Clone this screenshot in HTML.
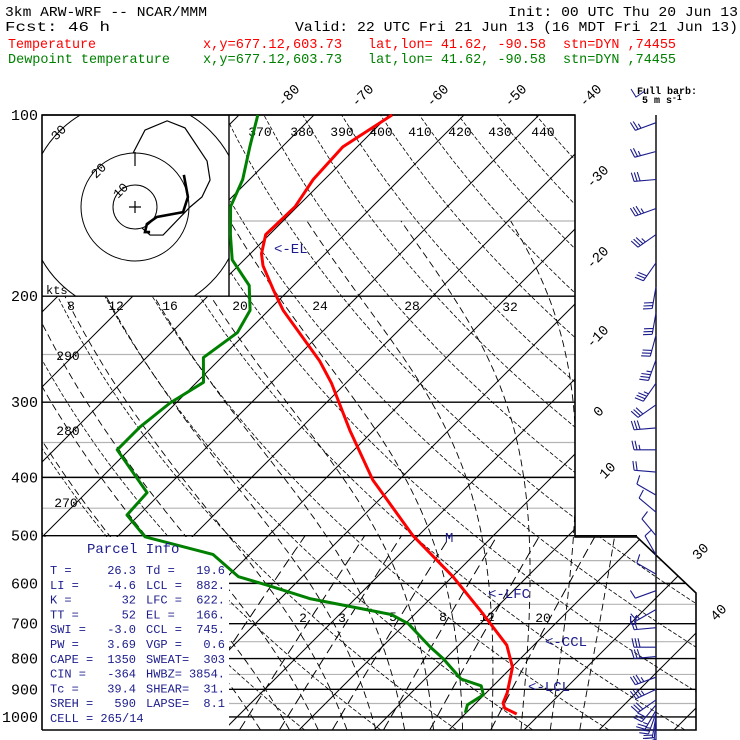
<!DOCTYPE html>
<html><head><meta charset="utf-8"><style>
html,body{margin:0;padding:0;background:#fff;}
svg{display:block;}
text{font-family:"Liberation Mono",monospace;}
</style></head><body>
<svg id="chart" xmlns="http://www.w3.org/2000/svg" width="740" height="740" viewBox="0 0 740 740">
<rect width="740" height="740" fill="#fff"/>
<defs><clipPath id="gclip"><polygon points="229,115 575,115 575,537 637,537 696,593 696,730 229,730 229,537 42,537 42,296 229,296"/></clipPath>
<clipPath id="hclip"><rect x="42" y="115" width="187" height="181"/></clipPath></defs>
<g font-size="14">
<text x="5" y="16" textLength="202" lengthAdjust="spacingAndGlyphs">3km ARW-WRF -- NCAR/MMM</text>
<text x="508" y="16" textLength="230" lengthAdjust="spacingAndGlyphs">Init: 00 UTC Thu 20 Jun 13</text>
<text x="5" y="31" textLength="105" lengthAdjust="spacingAndGlyphs">Fcst:    46 h</text>
<text x="295" y="31" textLength="443" lengthAdjust="spacingAndGlyphs">Valid: 22 UTC Fri 21 Jun 13 (16 MDT Fri 21 Jun 13)</text>
<g fill="#ff0000">
<text x="8" y="48" textLength="88" lengthAdjust="spacingAndGlyphs">Temperature</text>
<text x="203" y="48" textLength="139" lengthAdjust="spacingAndGlyphs">x,y=677.12,603.73</text>
<text x="368" y="48" textLength="178" lengthAdjust="spacingAndGlyphs">lat,lon= 41.62, -90.58</text>
<text x="563" y="48" textLength="113" lengthAdjust="spacingAndGlyphs">stn=DYN ,74455</text></g>
<g fill="#008000">
<text x="8" y="63" textLength="162" lengthAdjust="spacingAndGlyphs">Dewpoint temperature</text>
<text x="203" y="63" textLength="139" lengthAdjust="spacingAndGlyphs">x,y=677.12,603.73</text>
<text x="368" y="63" textLength="178" lengthAdjust="spacingAndGlyphs">lat,lon= 41.62, -90.58</text>
<text x="563" y="63" textLength="113" lengthAdjust="spacingAndGlyphs">stn=DYN ,74455</text></g>
</g>
<g id="grid" clip-path="url(#gclip)"></g>
<g id="frame"></g>
<g id="hodo"></g>
<g id="labels"></g>
<g id="sounding"></g>
<g id="barbs"></g>
<g fill="#1c1c8c" font-size="12" id="parcel"></g>
<g>
<text x="637" y="94" font-family="Liberation Serif, serif" font-weight="bold" font-size="10">Full barb:</text>
<text x="642" y="103" font-family="Liberation Serif, serif" font-weight="bold" font-size="10">5 m s<tspan dy="-3" font-size="8">-1</tspan></text>
<polyline points="645,91 636,97 631,89" fill="none" stroke="#1c1c8c" stroke-width="1"/>
</g>
</svg>
<script>
// ---- data ----
const isoTemps = [-150,-140,-130,-120,-110,-100,-90,-80,-70,-60,-50,-40,-30,-20,-10,0,10,20,30,40,50];
const dryThetas = [250,260,270,280,290,300,310,320,330,340,350,360,370,380,390,400,410,420,430,440,450,460,470];
const moistThetaW = [-8,-4,0,4,8,12,16,20,24,28,32,36];
const mixRatios = [1,2,3,5,8,12,20];
const pressureTicks = [100,200,300,400,500,600,700,800,900,1000];
const pressureMinor = [150,250,350,450,550,650,750,850,950];
const tempP = [100,113,128,142,158,170,178,196,211,256,279,334,404,500,585,664,760,827,912,948,967,989];
const tempC = [-69.6,-71.9,-71.5,-70.3,-70.5,-68.5,-66.7,-61.9,-58.1,-46.5,-41.9,-33.2,-23.5,-10.7,0.1,8.1,16.4,20.1,22.8,23.6,24.5,26.9];
const dewP = [100,113,128,142,158,174,192,211,230,253,278,301,330,360,424,462,502,537,585,604,636,676,700,765,800,865,888,919,955,985];
const dewC = [-87.5,-84.3,-80.9,-78.9,-75.2,-71.6,-65.9,-62.5,-61.2,-62.4,-59.1,-60.8,-61.6,-61.6,-51.9,-51.6,-46.3,-34.9,-28.5,-23.6,-16.1,-3.1,0.4,6.4,9.7,14.8,18.4,19.9,19.1,19.9];
const barbP = [103,115,128,143,158,176,193,213,232,255,279,303,331,360,392,428,457,500,538,579,617,663,711,766,794,859,900,937,955,975,986,998,1006,1014,1022,1030];
const barbDir = [250,255,265,250,235,215,190,190,195,200,215,235,265,270,275,300,310,320,330,300,250,240,265,270,265,250,245,235,220,210,200,190,185,180,180,180];
const barbSpd = [12.5,12.5,15,17.5,17.5,15,15,15,15,17.5,17.5,15,15,12.5,10,5,5,5,5,5,5,7.5,10,15,15,17.5,17.5,15,15,12.5,12.5,10,10,10,7.5,7.5];
const hodoU = [18.1,19.6,17.8,8.1,4.4,3.7,5.6];
const hodoV = [11.9,3.7,-1.9,-3.7,-6.3,-9.3,-9.3];
const hodoU2 = [2.6,5.6,10.4,20.4,24.8,27.8,26.7,18.5,11.9,3.7,-0.7];
const hodoV2 = [-7.8,-10.4,-10.4,0,3.7,10,17,29.3,31.9,28.5,20];
const parcelRows = [["T  =","26.3","Td =","19.6"],["LI =","-4.6","LCL =","882."],["K  =","32","LFC =","622."],["TT =","52","EL  =","166."],["SWI =","-3.0","CCL =","745."],["PW =","3.69","VGP =","0.6"],["CAPE =","1350","SWEAT=","303"],["CIN =","-364","HWBZ=","3854."],["Tc =","39.4","SHEAR=","31."],["SREH =","590","LAPSE=","8.1"]];

// ---- axis functions ----
function Y(p){return 115+261.4*Math.log(p/100);}
function X(t,p){return 312+7.5*t+(717-Y(p));}
const NS="http://www.w3.org/2000/svg";
function mk(tag,attrs,parent){const e=document.createElementNS(NS,tag);for(const k in attrs)e.setAttribute(k,attrs[k]);parent.appendChild(e);return e;}
const grid=document.getElementById('grid'),frame=document.getElementById('frame'),labels=document.getElementById('labels');

pressureMinor.forEach(p=>{const y=Y(p);const x0=(p<200||p>500)?229:42;
 const l=mk('line',{x1:x0,y1:y,x2:740,y2:y,stroke:'#b4b4b4','stroke-width':1.2},grid);
 
 });
isoTemps.forEach(t=>{const l=mk('line',{x1:X(t,1050),y1:Y(1050),x2:X(t,100),y2:Y(100),stroke:'#000','stroke-width':1},grid);
 
 });
dryThetas.forEach(th=>{let pts=[];for(let p=1050;p>=100;p-=10){const t=th*Math.pow(p/1000,0.2857)-273.15;pts.push(X(t,p).toFixed(1)+','+Y(p).toFixed(1));}
 const l=mk('polyline',{points:pts.join(' '),fill:'none',stroke:'#000','stroke-width':0.8,'stroke-dasharray':'4,2'},grid);
 
 });
function es(t){return 6.112*Math.exp(17.67*t/(t+243.5));}
function moistPts(tw){let t=tw,pts=[];let p=1000;
 const dTdp=(t,p)=>{const T=t+273.15;const rs=0.622*es(t)/(p-es(t));return (287*T+2.5e6*rs)/(1005+2.5e6*2.5e6*rs*0.622/(287*T*T))/p;};
 let tb=t;for(let pp=1000;pp<1050;pp+=5){tb+=dTdp(tb,pp)*5;}
 pts.push([tb,1050]);
 for(p=1000;p>=150;p-=5){pts.push([t,p]);t-=dTdp(t,p)*5;}
 pts.sort((a,b)=>b[1]-a[1]);return pts.map(a=>X(a[0],a[1]).toFixed(1)+','+Y(a[1]).toFixed(1)).join(' ');}
moistThetaW.forEach(tw=>{const l=mk('polyline',{points:moistPts(tw),fill:'none',stroke:'#000','stroke-width':0.9,'stroke-dasharray':'7,4'},grid);
 
 });
mixRatios.forEach(w=>{let pts=[];for(let p=1050;p>=500;p-=10){const e=w*p/(622+w);const a=Math.log(e/6.112);const td=243.5*a/(17.67-a);pts.push(X(td,p).toFixed(1)+','+Y(p).toFixed(1));}
 const l=mk('polyline',{points:pts.join(' '),fill:'none',stroke:'#000','stroke-width':1,'stroke-dasharray':'10,5'},grid);
 
 });
pressureTicks.forEach(p=>{const y=Y(p);let x0=42,x1=575;if(p==500)x1=637;if(p>500){x0=229;x1=(y<593)?637+(y-537)*59/56:696;}
 const l=mk('line',{x1:x0,y1:y,x2:x1,y2:y,stroke:'#000','stroke-width':1.4},frame);
 
 
 const t=mk('text',{x:38,y:y+5,'text-anchor':'end','font-size':15,'font-family':'Liberation Sans, sans-serif'},labels);t.textContent=p;
 
 });
mk('polyline',{points:'42,730 42,115 575,115 575,537 637,537 696,593 696,730 42,730',fill:'none',stroke:'#000','stroke-width':1.6},frame);
mk('line',{x1:229,y1:115,x2:229,y2:296,stroke:'#000','stroke-width':1.4},frame);
mk('line',{x1:656,y1:115,x2:656,y2:730,stroke:'#000','stroke-width':1.4},frame);
function lab(txt,x,y,rot,name,fs){const t=mk('text',{x:x,y:y,'text-anchor':'middle','font-size':fs||14,'font-family':'Liberation Sans, sans-serif'},labels);if(rot)t.setAttribute('transform','rotate(-45 '+x+' '+(y-5)+')');t.textContent=txt;
 
 }
[["-80",288,100],["-70",362,100],["-60",437,100],["-50",515,100],["-40",590,100],["-30",597,181],["-20",597,262],["-10",597,341],["0",598,416],["10",607,475],["30",700,556],["40",718,617]].forEach(a=>lab(a[0],a[1],a[2],true,'isotherm-label'));
[["370",260,136],["380",302,136],["390",342,136],["400",381,136],["410",420,136],["420",460,136],["430",500,136],["440",543,136],["290",68,360],["280",68,435],["270",66,507]].forEach(a=>lab(a[0],a[1],a[2],false,'theta-label',13));
[["8",71,310],["12",116,310],["16",170,310],["20",240,310],["24",320,310],["28",412,310],["32",510,311]].forEach(a=>lab(a[0],a[1],a[2],false,'moist-label',13));
[["2",303,622],["3",342,622],["5",393,621],["8",443,621],["12",487,621],["20",543,622]].forEach(a=>lab(a[0],a[1],a[2],false,'mixing-label',13));
const hodo=document.getElementById('hodo');const hg=mk('g',{'clip-path':'url(#hclip)'},hodo);
const HC=[135,207],HS=2.7;
[22,54,107].forEach(r=>mk('circle',{cx:HC[0],cy:HC[1],r:r,fill:'none',stroke:'#000','stroke-width':1},hg));
mk('path',{d:'M129,207h12M135,201v12',stroke:'#000','stroke-width':1.2},hg);
mk('line',{x1:135,y1:152,x2:135,y2:166,stroke:'#000','stroke-width':1.2},hg);
[["30",58,137],["20",98,175],["10",120,195]].forEach(a=>lab(a[0],a[1],a[2],true,'hodo-ring-label',13));
const hx=u=>HC[0]+u*HS,hy=v=>HC[1]-v*HS;
const hp1=mk('polyline',{points:hodoU.map((u,i)=>hx(u)+','+hy(hodoV[i])).join(' '),fill:'none',stroke:'#000','stroke-width':2.6},hg);


const hp2=mk('polyline',{points:hodoU2.map((u,i)=>hx(u)+','+hy(hodoV2[i])).join(' '),fill:'none',stroke:'#000','stroke-width':1.2},hg);


const kt=mk('text',{x:46,y:294,'font-size':12,'font-family':'Liberation Mono, monospace'},hodo);kt.textContent='kts';
const snd=document.getElementById('sounding');
const tl=mk('polyline',{points:tempP.map((p,i)=>X(tempC[i],p).toFixed(1)+','+Y(p).toFixed(1)).join(' '),fill:'none',stroke:'#ff0000','stroke-width':3,'stroke-linejoin':'round'},snd);


const dl=mk('polyline',{points:dewP.map((p,i)=>X(dewC[i],p).toFixed(1)+','+Y(p).toFixed(1)).join(' '),fill:'none',stroke:'#008000','stroke-width':3,'stroke-linejoin':'round'},snd);


[["<-EL",274,253],["<-LFC",488,598],["<-CCL",545,646],["<-LCL",528,691],["M",445,542],["U",629,625]].forEach(a=>{const t=mk('text',{x:a[1],y:a[2],fill:'#1c1c8c','font-size':14},snd);t.textContent=a[0];
 
 });
const bg=document.getElementById('barbs');
barbP.forEach((p,i)=>{const y=Y(p),x=656;const d=barbDir[i]*Math.PI/180;const sx=Math.sin(d),sy=-Math.cos(d);const px=-sy,py=sx;const L=22;
 let path='M'+x+','+y.toFixed(1)+'L'+(x+sx*L).toFixed(1)+','+(y+sy*L).toFixed(1);
 let s=barbSpd[i],pos=L;
 while(s>=25){const bx=x+sx*pos,by=y+sy*pos;path+='M'+bx.toFixed(1)+','+by.toFixed(1)+'L'+(bx+px*9).toFixed(1)+','+(by+py*9).toFixed(1)+'L'+(x+sx*(pos-4)).toFixed(1)+','+(y+sy*(pos-4)).toFixed(1);pos-=5;s-=25;}
 while(s>=5){const bx=x+sx*pos,by=y+sy*pos;path+='M'+bx.toFixed(1)+','+by.toFixed(1)+'L'+(bx+px*9+sx*2).toFixed(1)+','+(by+py*9+sy*2).toFixed(1);pos-=3;s-=5;}
 if(s>=2.5){const bx=x+sx*pos,by=y+sy*pos;path+='M'+bx.toFixed(1)+','+by.toFixed(1)+'L'+(bx+px*5+sx*1).toFixed(1)+','+(by+py*5+sy*1).toFixed(1);}
 const e=mk('path',{d:path,fill:'none',stroke:'#1c1c8c','stroke-width':1.1},bg);
 
 });
const pg=document.getElementById('parcel');
const ttl=mk('text',{x:87,y:553,'font-size':14},pg);ttl.textContent='Parcel Info';
parcelRows.forEach((r,i)=>{const y=574+i*14.8;
 const a=mk('text',{x:50,y:y},pg);a.textContent=r[0];
 const b=mk('text',{x:136,y:y,'text-anchor':'end'},pg);b.textContent=r[1];
 const c=mk('text',{x:146,y:y},pg);c.textContent=r[2];
 const d=mk('text',{x:225,y:y,'text-anchor':'end'},pg);d.textContent=r[3];});
const cl=mk('text',{x:50,y:722},pg);cl.textContent='CELL = 265/14';
</script>
</body></html>
